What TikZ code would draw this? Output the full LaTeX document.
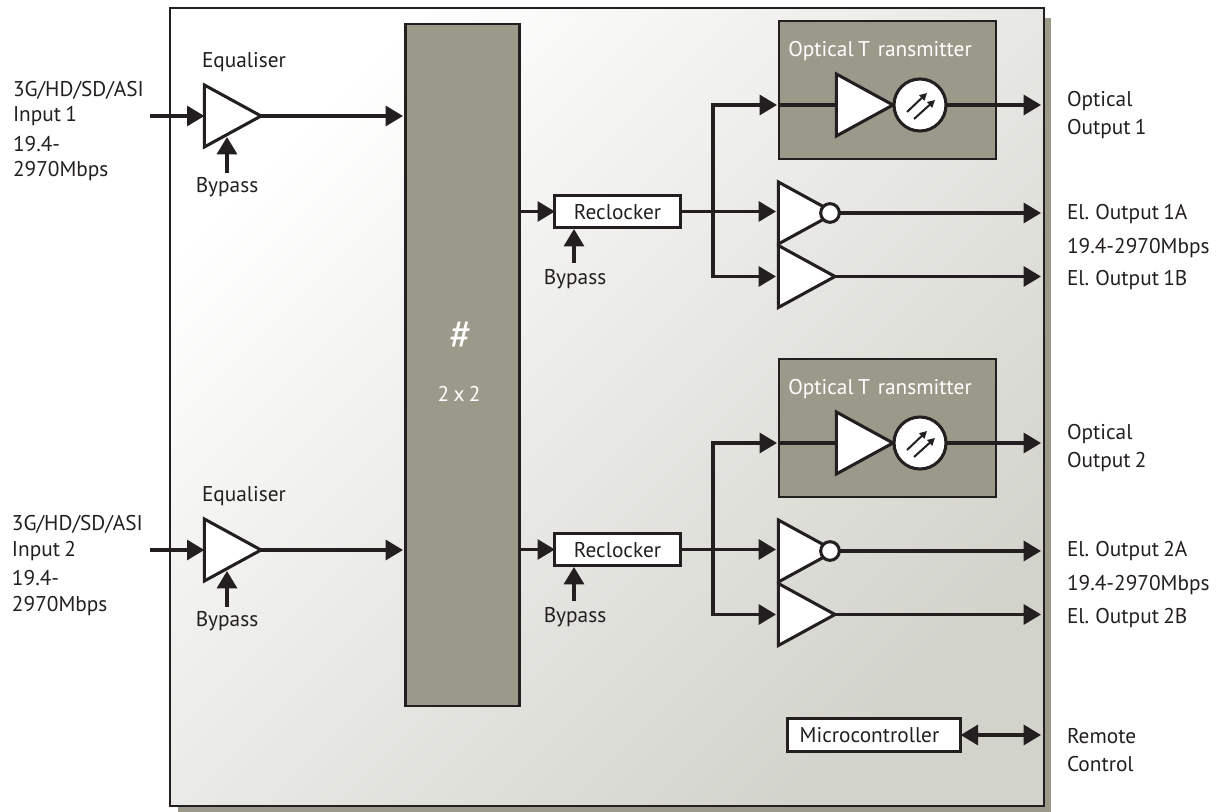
\documentclass[tikz,border=0pt]{standalone}
\usepackage{fontspec}
\setmainfont[WordSpace=0.75]{PT Sans}
\usetikzlibrary{arrows.meta,shapes.geometric,calc}
\definecolor{panel}{HTML}{9A998A}
\definecolor{ink}{HTML}{231F20}
\definecolor{bgend}{HTML}{D2D3CB}
\tikzset{
 conn/.style={draw=ink,line width=2.3pt},
 arr/.style={conn,-{Triangle[length=13pt,width=15pt]}},
 darr/.style={conn,{Triangle[length=13pt,width=15pt]}-{Triangle[length=13pt,width=15pt]}},
 tiny arr/.style={draw=ink,line width=1.5pt,-{Triangle[length=5.5pt,width=5.5pt]}},
 amp/.style={isosceles triangle,isosceles triangle stretches,isosceles triangle apex angle=60,draw=ink,fill=white,line width=2.3pt,inner sep=0pt,outer sep=0pt,minimum width=46.5pt,minimum height=42.5pt,shape border rotate=0},
 gbox/.style={rectangle,draw=ink,fill=panel,line width=2.2pt,inner sep=0pt,outer sep=0pt},
 wbox/.style={rectangle,draw=ink,fill=white,line width=2.3pt,inner sep=0pt,outer sep=0pt,text=ink},
 lbl/.style={inner sep=0pt,outer sep=0pt,text=ink,font=\fontsize{16}{20}\selectfont},
 wlbl/.style={lbl,text=white},
 bubble/.style={circle,draw=ink,fill=white,line width=2.3pt,inner sep=0pt,outer sep=0pt},
}
\begin{document}
\begin{tikzpicture}[x=0.75pt,y=-0.75pt]
\useasboundingbox (0,0) rectangle (1218,812);
\fill[panel] (178,18) rectangle (1051,812);
\shade[shading=axis,top color=white,bottom color=bgend,shading angle=45] (170,8) rectangle (1044,806);
\draw[ink,line width=1.6pt] (170,8) rectangle (1044,806);
\node[gbox,minimum width=85pt,minimum height=511.5pt] (matrix) at (462.5,365) {};
\node[wlbl,font=\fontsize{32}{32}\selectfont] (hash) at (461,336) {\#};
\node[wlbl] (size) at (459,394) {2 x 2};
% inputs
\foreach \s/\o in {1/0,2/434}{
 \begin{scope}[yshift=-\o*0.75pt]
 \node[amp,anchor=apex] (eq\s) at (261,116) {};
 \coordinate (in\s) at (150,116);
 \coordinate (mx\s) at (403,116);
 \coordinate (by\s) at (227,173);
 \coordinate (byt\s) at (227,137);
 \node[lbl] (eqt\s) at (244,62) {Equaliser};
 \node[lbl] (byl\s) at (227,187) {Bypass};
 \end{scope}
 \draw[arr] (in\s) -- (eq\s.lower side);
 \draw[arr] (eq\s.apex) -- (mx\s);
 \draw[arr] (by\s) -- (byt\s);
}
\node[lbl,anchor=west] (i1a) at (13,90) {3G/HD/SD/ASI};
\node[lbl,anchor=west] (i1b) at (13,116) {Input 1};
\node[lbl,anchor=west] (i1c) at (13,144) {19.4-};
\node[lbl,anchor=west] (i1d) at (13,171) {2970Mbps};
\node[lbl,anchor=west] (i2a) at (12,524) {3G/HD/SD/ASI};
\node[lbl,anchor=west] (i2b) at (12,551) {Input 2};
\node[lbl,anchor=west] (i2c) at (12,578) {19.4-};
\node[lbl,anchor=west] (i2d) at (12,606) {2970Mbps};
% output groups
\foreach \s/\o in {1/0,2/338}{
 \begin{scope}[yshift=-\o*0.75pt]
 \node[gbox,minimum width=162.75pt,minimum height=103.5pt] (tx\s) at (887.5,90) {};
 \node[wlbl] (txl\s) at (880,51) {Optical T\hspace{6pt}ransmitter};
 \node[amp,anchor=apex] (a\s) at (893,105) {};
 \node[bubble,minimum size=39pt] (led\s) at (920,105) {};
 \node[amp,anchor=apex] (n\s) at (835,213) {};
 \node[bubble,minimum size=14pt] (nb\s) at (830,213) {};
 \node[amp,anchor=apex] (b\s) at (835,276.5) {};
 \node[wbox,minimum width=94pt,minimum height=24pt] (rc\s) at (617.5,211.5) {};
 \node[lbl] (rct\s) at (617.5,212) {Reclocker};
 \node[lbl] (rb\s) at (575,279) {Bypass};
 \coordinate (m\s) at (519,211.5);
 \coordinate (j\s) at (713,211.5);
 \coordinate (jt\s) at (713,105);
 \coordinate (jb\s) at (713,276.5);
 \coordinate (tin\s) at (777,105);
 \coordinate (nin\s) at (776,211.5);
 \coordinate (bin\s) at (776,276.5);
 \coordinate (o\s) at (1041,105);
 \coordinate (p\s) at (1041,213);
 \coordinate (q\s) at (1041,276.5);
 \coordinate (rby\s) at (574,263);
 \coordinate (rbt\s) at (574,229);
 \coordinate (d1\s) at (907,112);
 \coordinate (d1t\s) at (927,93);
 \coordinate (d2\s) at (914,119);
 \coordinate (d2t\s) at (935,100);
 \end{scope}
 \draw[arr] (m\s) -- (rc\s.west);
 \draw[conn] (rc\s.east) -- (j\s);
 \draw[arr] (j\s) -- (nin\s);
 \draw[arr] (jt\s) -- (tin\s);
 \draw[arr] (jb\s) -- (bin\s);
 \draw[conn,line cap=rect] (jt\s) -- (jb\s);
 \draw[conn] (tx\s.west |- a\s.lower side) -- (a\s.lower side);
 \draw[arr] (led\s.east) -- (o\s);
 \draw[arr] (nb\s.east) -- (p\s);
 \draw[arr] (b\s.apex) -- (q\s);
 \draw[arr] (rby\s) -- (rbt\s);
 \draw[tiny arr] (d1\s) -- (d1t\s);
 \draw[tiny arr] (d2\s) -- (d2t\s);
}
\node[lbl,anchor=west] (o1a) at (1067,101) {Optical};
\node[lbl,anchor=west] (o1b) at (1067,129) {Output 1};
\node[lbl,anchor=west] (e1a) at (1067,214) {El. Output 1A};
\node[lbl,anchor=west] (r1) at (1067,248) {19.4-2970Mbps};
\node[lbl,anchor=west] (e1b) at (1067,280) {El. Output 1B};
\node[lbl,anchor=west] (o2a) at (1067,434) {Optical};
\node[lbl,anchor=west] (o2b) at (1067,462) {Output 2};
\node[lbl,anchor=west] (e2a) at (1067,551) {El. Output 2A};
\node[lbl,anchor=west] (r2) at (1067,585) {19.4-2970Mbps};
\node[lbl,anchor=west] (e2b) at (1067,618) {El. Output 2B};
\node[wbox,minimum width=130pt,minimum height=24.5pt] (mc) at (874,735) {};
\node[lbl] (mct) at (869.5,735) {Microcontroller};
\coordinate (rem) at (1041,735);
\draw[darr] (mc.east) -- (rem);
\node[lbl,anchor=west] (rc) at (1067,736) {Remote};
\node[lbl,anchor=west] (rd) at (1067,764) {Control};
\end{tikzpicture}
\end{document}
